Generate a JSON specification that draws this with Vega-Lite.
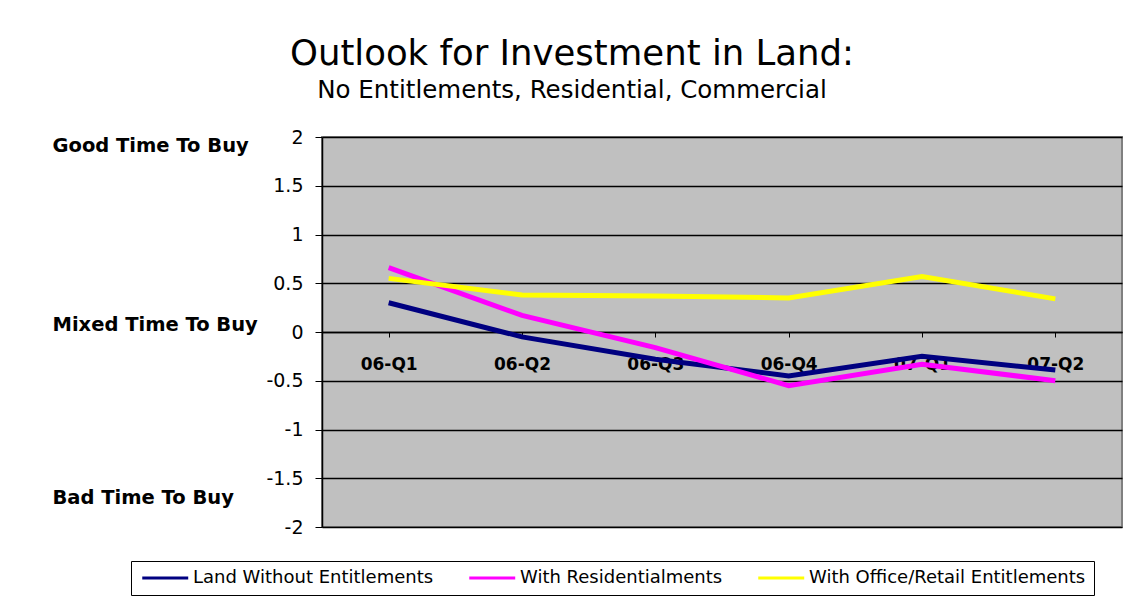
{
  "$schema": "https://vega.github.io/schema/vega-lite/v6.json",
  "autosize": {"type": "none"},
  "padding": {"left": 322, "top": 137, "right": 14, "bottom": 75},
  "width": 800,
  "height": 390,
  "background": "white",
  "title": {
    "text": "Outlook for Investment in Land:",
    "subtitle": "No Entitlements, Residential, Commercial",
    "anchor": "middle",
    "dx": -150,
    "offset": 26,
    "font": "DejaVu Sans",
    "fontSize": 35.5,
    "fontWeight": "normal",
    "color": "black",
    "subtitleFont": "DejaVu Sans",
    "subtitleFontSize": 24.5,
    "subtitleColor": "black",
    "subtitlePadding": 6
  },
  "config": {
    "view": {"fill": "#C0C0C0", "stroke": "#808080", "strokeWidth": 2},
    "axis": {"labelFont": "DejaVu Sans", "labelColor": "black"}
  },
  "layer": [
    {
      "data": {
        "values": [
          {"quarter": "06-Q1", "series": "Land Without Entitlements", "score": 0.30},
          {"quarter": "06-Q2", "series": "Land Without Entitlements", "score": -0.05},
          {"quarter": "06-Q3", "series": "Land Without Entitlements", "score": -0.28},
          {"quarter": "06-Q4", "series": "Land Without Entitlements", "score": -0.45},
          {"quarter": "07-Q1", "series": "Land Without Entitlements", "score": -0.25},
          {"quarter": "07-Q2", "series": "Land Without Entitlements", "score": -0.39},
          {"quarter": "06-Q1", "series": "With Residentialments", "score": 0.66},
          {"quarter": "06-Q2", "series": "With Residentialments", "score": 0.17},
          {"quarter": "06-Q3", "series": "With Residentialments", "score": -0.16},
          {"quarter": "06-Q4", "series": "With Residentialments", "score": -0.55},
          {"quarter": "07-Q1", "series": "With Residentialments", "score": -0.33},
          {"quarter": "07-Q2", "series": "With Residentialments", "score": -0.50},
          {"quarter": "06-Q1", "series": "With Office/Retail Entitlements", "score": 0.55},
          {"quarter": "06-Q2", "series": "With Office/Retail Entitlements", "score": 0.38},
          {"quarter": "06-Q3", "series": "With Office/Retail Entitlements", "score": 0.37},
          {"quarter": "06-Q4", "series": "With Office/Retail Entitlements", "score": 0.35},
          {"quarter": "07-Q1", "series": "With Office/Retail Entitlements", "score": 0.57},
          {"quarter": "07-Q2", "series": "With Office/Retail Entitlements", "score": 0.34}
        ]
      },
      "mark": {"type": "line", "strokeWidth": 5},
      "encoding": {
        "x": {
          "field": "quarter",
          "type": "ordinal",
          "sort": null,
          "scale": {"paddingInner": 0, "paddingOuter": 0},
          "axis": {
            "title": null,
            "orient": "bottom",
            "offset": -195,
            "bandPosition": 0,
            "labelAngle": 0,
            "labelFont": "DejaVu Sans",
            "labelFontSize": 17,
            "labelFontWeight": "bold",
            "labelPadding": 19,
            "tickSize": 5,
            "tickColor": "black",
            "domainColor": "black",
            "domainWidth": 1.5,
            "grid": false
          }
        },
        "y": {
          "field": "score",
          "type": "quantitative",
          "scale": {"domain": [-2, 2], "nice": false, "zero": false},
          "axis": {
            "title": null,
            "orient": "left",
            "values": [-2, -1.5, -1, -0.5, 0, 0.5, 1, 1.5, 2],
            "labelExpr": "'' + datum.value",
            "labelFont": "DejaVu Sans",
            "labelFontSize": 19,
            "labelPadding": 12,
            "tickSize": 7,
            "tickColor": "black",
            "domainColor": "black",
            "domainWidth": 1.5,
            "grid": true,
            "gridColor": "black",
            "gridWidth": 1.5,
            "gridOpacity": 1
          }
        },
        "color": {
          "field": "series",
          "type": "nominal",
          "scale": {
            "domain": ["Land Without Entitlements", "With Residentialments", "With Office/Retail Entitlements"],
            "range": ["#000080", "#FF00FF", "#FFFF00"]
          },
          "legend": {
            "title": null,
            "orient": "none",
            "legendX": -191,
            "legendY": 424,
            "direction": "horizontal",
            "strokeColor": "black",
            "fillColor": "white",
            "padding": 8,
            "symbolType": "M-1,0H7",
            "symbolSize": 132,
            "symbolStrokeWidth": 3,
            "labelFont": "DejaVu Sans",
            "labelFontSize": 18,
            "labelColor": "black",
            "labelOffset": 36,
            "labelLimit": 0,
            "columnPadding": 29
          }
        }
      }
    },
    {
      "data": {
        "values": [
          {"zone": "Good Time To Buy", "score": 1.91},
          {"zone": "Mixed Time To Buy", "score": 0.08},
          {"zone": "Bad Time To Buy", "score": -1.7}
        ]
      },
      "mark": {"type": "point", "opacity": 0},
      "encoding": {
        "y": {
          "field": "score",
          "type": "quantitative",
          "scale": {"domain": [-2, 2], "nice": false, "zero": false},
          "axis": {
            "title": null,
            "orient": "left",
            "offset": 270,
            "values": [1.91, 0.08, -1.7],
            "labelExpr": "datum.value > 1 ? 'Good Time To Buy' : (datum.value > -1 ? 'Mixed Time To Buy' : 'Bad Time To Buy')",
            "labelAlign": "left",
            "labelPadding": 0,
            "labelLimit": 0,
            "labelFont": "DejaVu Sans",
            "labelFontSize": 19.5,
            "labelFontWeight": "bold",
            "labelColor": "black",
            "ticks": false,
            "domain": false,
            "grid": false
          }
        }
      }
    }
  ],
  "resolve": {"axis": {"y": "independent"}}
}
